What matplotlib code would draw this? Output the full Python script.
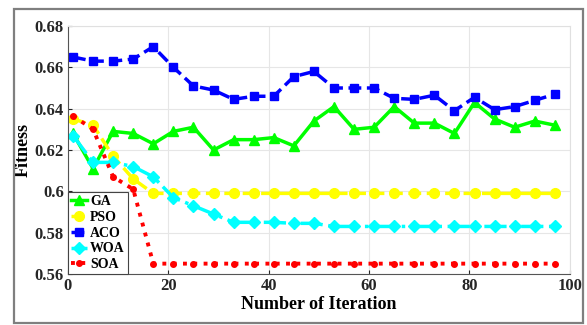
import numpy as np
import matplotlib
matplotlib.use("Agg")
import matplotlib.pyplot as plt
from matplotlib.patches import Rectangle
from matplotlib.ticker import FuncFormatter

# ── Data ──────────────────────────────────────────────────────────────────────
iterations = list(range(1, 98, 4))

ga = [0.628, 0.611, 0.629, 0.628, 0.623, 0.629, 0.631, 0.620, 0.625, 0.625,
      0.626, 0.622, 0.634, 0.641, 0.630, 0.631, 0.641, 0.633, 0.633, 0.628,
      0.643, 0.635, 0.631, 0.634, 0.632]
pso = [0.635, 0.632, 0.617, 0.606, 0.599, 0.599, 0.599, 0.599, 0.599, 0.599,
       0.599, 0.599, 0.599, 0.599, 0.599, 0.599, 0.599, 0.599, 0.599, 0.599,
       0.599, 0.599, 0.599, 0.599, 0.599]
aco = [0.665, 0.663, 0.663, 0.664, 0.670, 0.660, 0.651, 0.649, 0.6445, 0.646,
       0.646, 0.6555, 0.658, 0.650, 0.650, 0.650, 0.645, 0.6445, 0.6465, 0.639,
       0.6455, 0.6395, 0.641, 0.644, 0.647]
woa = [0.627, 0.614, 0.614, 0.612, 0.607, 0.597, 0.593, 0.589, 0.585, 0.585,
       0.585, 0.5845, 0.5845, 0.583, 0.583, 0.583, 0.583, 0.583, 0.583, 0.583,
       0.583, 0.583, 0.583, 0.583, 0.583]
soa = [0.6365, 0.630, 0.607, 0.601, 0.565, 0.565, 0.565, 0.565, 0.565, 0.565,
       0.565, 0.565, 0.565, 0.565, 0.565, 0.565, 0.565, 0.565, 0.565, 0.565,
       0.565, 0.565, 0.565, 0.565, 0.565]

x_ticks = [0, 20, 40, 60, 80, 100]
y_ticks = [0.56, 0.58, 0.60, 0.62, 0.64, 0.66, 0.68]

# ── Figure ────────────────────────────────────────────────────────────────────
plt.rcParams["font.family"] = ["Liberation Serif", "DejaVu Serif"]
plt.rcParams["font.weight"] = "bold"

fig = plt.figure(figsize=(5.87, 3.25), dpi=100)
ax = fig.add_axes([0.1158, 0.157, 0.855, 0.763])

# outer frame around the whole picture
fig.patches.append(Rectangle((14 / 587, 2 / 325), 569 / 587, 314 / 325,
                             transform=fig.transFigure, fill=False,
                             edgecolor="#7f7f7f", linewidth=1.6))

ax.plot(iterations, ga, color="#00ff00", linestyle="-", linewidth=2.5,
        marker="^", markersize=7.5, label="GA")
ax.plot(iterations, pso, color="#ffff00", linestyle="--", linewidth=2.5,
        marker="o", markersize=7, label="PSO")
ax.plot(iterations, aco, color="#0000ff", linestyle="--", linewidth=2.5,
        marker="s", markersize=6, label="ACO")
ax.plot(iterations, woa, color="#00ffff", linestyle="-.", linewidth=2.5,
        marker="D", markersize=6, label="WOA")
ax.plot(iterations, soa, color="#ff0000", linestyle=":", linewidth=2.8,
        marker="o", markersize=4, label="SOA")

ax.set_xlim(0, 100)
ax.set_ylim(0.56, 0.68)
ax.set_xticks(x_ticks)
ax.set_yticks(y_ticks)
ax.yaxis.set_major_formatter(FuncFormatter(lambda v, p: f"{v:g}"))
ax.tick_params(direction="in", length=3, labelsize=12, width=0.8,
               colors="#262626", labelcolor="#262626", pad=3)
for lab in ax.get_xticklabels() + ax.get_yticklabels():
    lab.set_fontweight("bold")

ax.grid(True, color="#e6e6e6", linewidth=0.8)
ax.set_axisbelow(True)
for side in ("top", "right"):
    ax.spines[side].set_color("#e0e0e0")
for side in ("left", "bottom"):
    ax.spines[side].set_color("#555555")

ax.set_xlabel("Number of Iteration", fontsize=13, fontweight="bold",
              labelpad=1)
ax.set_ylabel("Fitness", fontsize=13, fontweight="bold", labelpad=2)

leg = ax.legend(loc="lower left", handlelength=1.2,
                borderpad=0.2, labelspacing=0.2, handletextpad=0.2,
                borderaxespad=0, fancybox=False, framealpha=1,
                edgecolor="#444444", prop={"weight": "bold", "size": 10})
leg.get_frame().set_linewidth(0.8)

fig.savefig("out.png", dpi=100)
